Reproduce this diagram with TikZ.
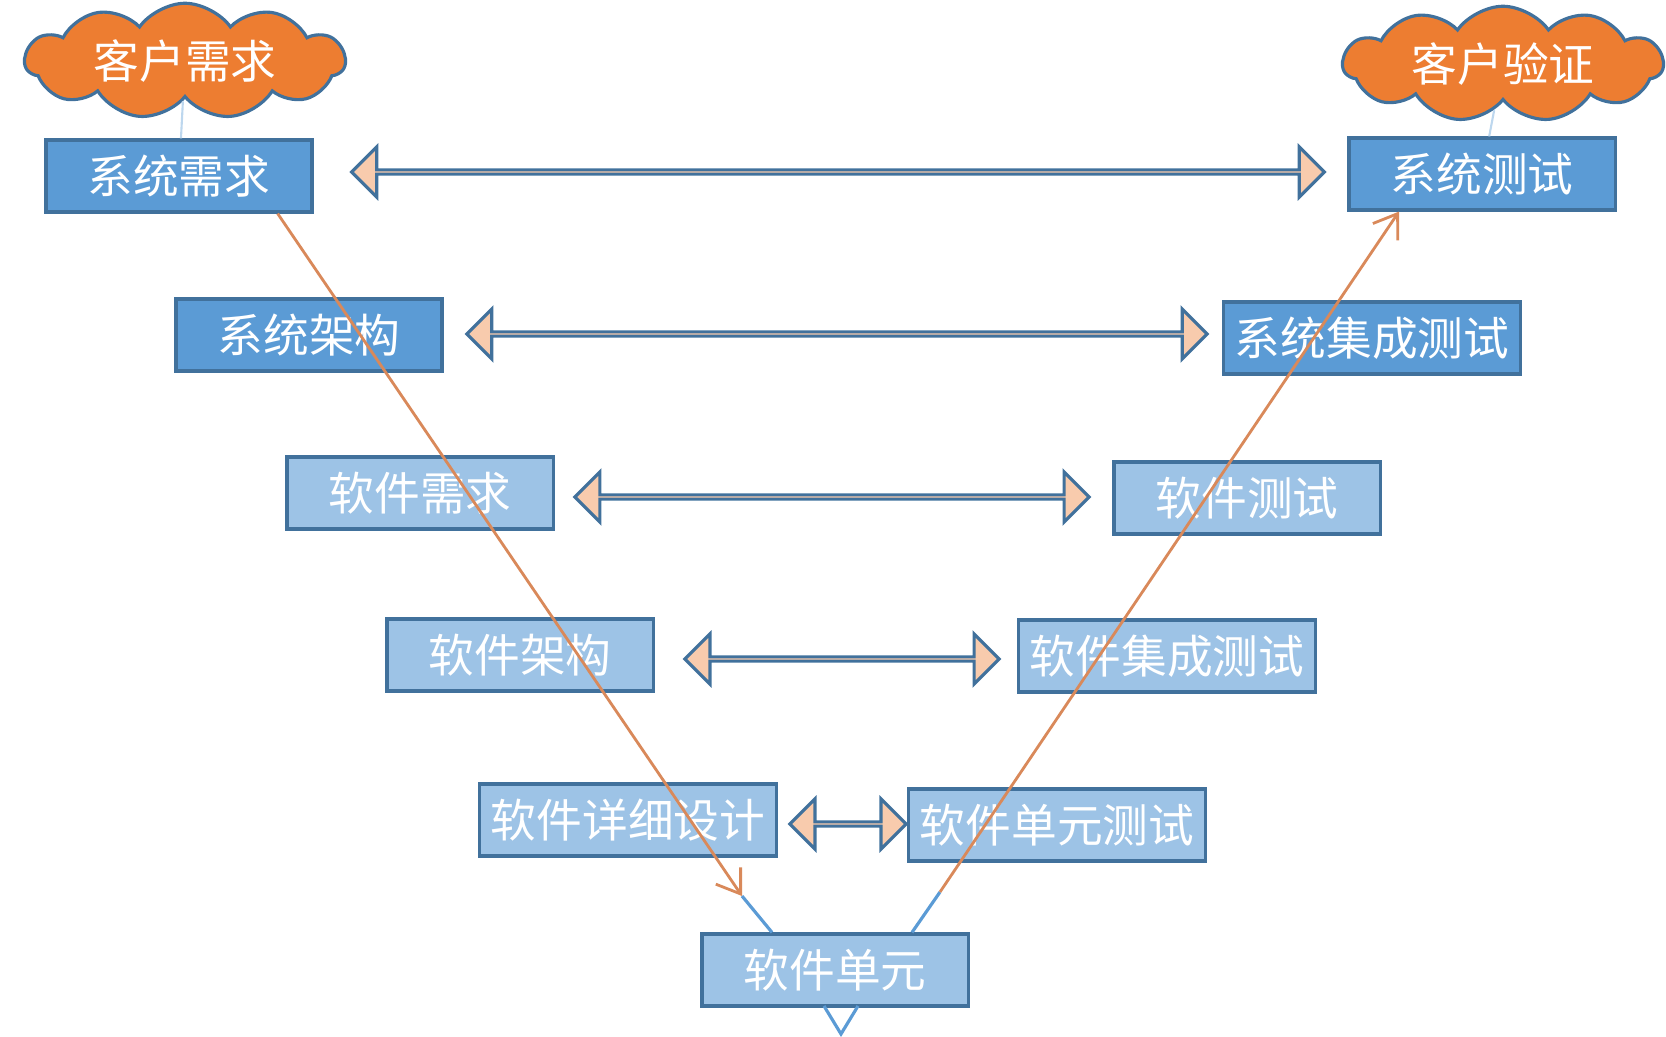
\documentclass[tikz,border=0pt]{standalone}
\usepackage{fontspec}
\setmainfont{Noto Sans CJK SC}
\usetikzlibrary{shapes.symbols,shapes.arrows,arrows.meta}
\definecolor{boxdark}{HTML}{5B9BD5}
\definecolor{boxlight}{HTML}{9DC3E6}
\definecolor{edgeblue}{HTML}{41719C}
\definecolor{peach}{HTML}{F8CBAD}
\definecolor{cloudorange}{HTML}{ED7D31}
\definecolor{vline}{HTML}{5B9BD5}
\definecolor{vorange}{HTML}{D9895A}
\tikzset{
    phase/.style = {draw=edgeblue, line width=0.9pt, minimum width=2.66cm, minimum height=0.72cm,
        text=white, font=\fontsize{13}{15}\selectfont},
    sysbox/.style = {phase, fill=boxdark},
    swbox/.style = {phase, fill=boxlight},
    wish/.style = {cloud, cloud puffs=11, cloud puff arc=110, aspect=3.2, draw=edgeblue, line width=0.9pt,
        fill=cloudorange, minimum width=3.2cm, minimum height=1.0cm, inner sep=0pt,
        text=white, font=\fontsize{13}{15}\selectfont},
    match/.style = {double arrow, draw=edgeblue, line width=0.9pt, fill=peach,
        minimum width=0.5cm, double arrow head extend=0.17cm, inner sep=0pt},
    flow/.style = {draw=vorange, line width=0.8pt, -{Straight Barb[length=2.2mm,width=3mm]}},
    stem/.style = {draw=vline, line width=0.9pt}
}
\begin{document}
\begin{tikzpicture}[x=0.01cm, y=-0.01cm]
    \useasboundingbox (0,0) rectangle (1666,1037);
    % clouds
    \node[wish] (need) at (185,61) {客户需求};
    \node[wish] (accept) at (1503,64) {客户验证};
    % left side
    \node[sysbox] (sysreq)  at (179,176) {系统需求};
    \node[sysbox] (sysarch) at (309,335) {系统架构};
    \node[swbox]  (swreq)   at (420,493) {软件需求};
    \node[swbox]  (swarch)  at (520,655) {软件架构};
    \node[swbox]  (swdet)   at (628,820) {软件详细设计};
    \node[swbox]  (unit)    at (835,970) {软件单元};
    % right side
    \node[swbox]  (unittest) at (1057,825) {软件单元测试};
    \node[swbox]  (swint)    at (1167,656) {软件集成测试};
    \node[swbox]  (swtest)   at (1247,498) {软件测试};
    \node[sysbox] (sysint)   at (1372,338) {系统集成测试};
    \node[sysbox] (systest)  at (1482,174) {系统测试};
    % double arrows
    \node[match, minimum height=9.72cm] (m1) at (838,172) {};
    \node[match, minimum height=7.40cm] (m2) at (837,334) {};
    \node[match, minimum height=5.14cm] (m3) at (832,497) {};
    \node[match, minimum height=3.14cm] (m4) at (842,659) {};
    \node[match, minimum height=1.16cm] (m5) at (848,824) {};
    % V lines
    \coordinate (downend) at (742,896);
    \coordinate (upstart) at (940,892);
    \draw[draw=vline!40, line width=0.6pt] (need) -- (sysreq);
    \draw[draw=vline!40, line width=0.6pt] (systest) -- (accept);
    \draw[flow] (sysreq.south east) ++(-36,0) coordinate (downstart) -- (downend);
    \draw[stem] (downend) -- (unit.north west -| 772,0);
    \draw[stem] (unit.north east -| 912,0) -- (upstart);
    \draw[flow] (upstart) -- (systest.south west -| 1399,0);
    \draw[stem] (824,1006) -- (841,1034) -- (858,1006);
\end{tikzpicture}
\end{document}
